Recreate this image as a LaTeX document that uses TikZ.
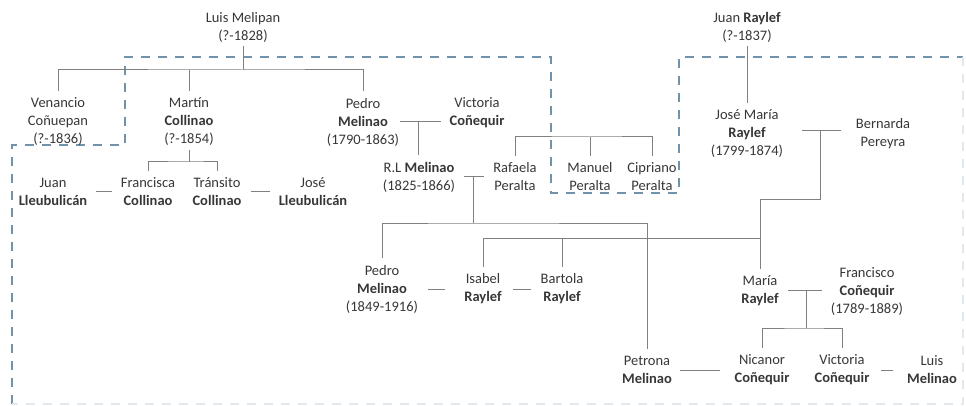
\documentclass[tikz,border=0pt]{standalone}
\usepackage{fontspec}
\setmainfont{Carlito}
\definecolor{linegray}{RGB}{128,128,128}
\definecolor{borderblue}{RGB}{112,146,170}
\definecolor{namegray}{RGB}{55,55,55}
\newcommand*{\linegap}{7pt}
\newcommand*{\dropgap}{-4pt}

\begin{document}
\begin{tikzpicture}[x=1pt, y=-1pt,
    person/.style={align=center, inner sep=0pt, text=namegray, font=\fontsize{14.5}{18}\selectfont},
    tree/.style={draw=linegray, line width=1pt},
    couple/.style={tree, shorten <=9pt, shorten >=9pt},
    border/.style={draw=borderblue, line width=1.1pt, dash pattern=on 9pt off 8pt}]
    \useasboundingbox (0,0) rectangle (966,406);
    % dashed border
    \draw[border] (12,404) -- (12,145) -- (125,145) -- (125,57) -- (551,57) -- (551,193) -- (679,193) -- (679,57) -- (963,57);
    \draw[border, draw=borderblue!20] (963,57) -- (963,404) -- (12,404);
    % first generation
    \node[person] (lmel) at (243,27) {Luis Melipan\\(?-1828)};
    \node[person] (juanr) at (747,27) {Juan \textbf{Raylef}\\(?-1837)};
    % second generation
    \node[person] (venancio) at (58,122) {Venancio\\Coñuepan\\(?-1836)};
    \node[person] (martin) at (189,122) {Martín\\\textbf{Collinao}\\(?-1854)};
    \node[person] (pedromel) at (363,122) {Pedro\\\textbf{Melinao}\\(1790-1863)};
    \node[person] (victoriacon) at (477,113) {Victoria\\\textbf{Coñequir}};
    \node[person] (josemaria) at (747,134) {José María\\\textbf{Raylef}\\(1799-1874)};
    \node[person] (bernarda) at (883,134) {Bernarda\\Pereyra};
    % third generation
    \node[person] (juanll) at (53,192) {Juan\\\textbf{Lleubulicán}};
    \node[person] (francisca) at (148,192) {Francisca\\\textbf{Collinao}};
    \node[person] (transito) at (217,192) {Tránsito\\\textbf{Collinao}};
    \node[person] (josell) at (313,192) {José\\\textbf{Lleubulicán}};
    \node[person] (rlmel) at (419,177) {R.L \textbf{Melinao}\\(1825-1866)};
    \node[person] (rafaela) at (515,177) {Rafaela\\Peralta};
    \node[person] (manuel) at (590,177) {Manuel\\Peralta};
    \node[person] (cipriano) at (652,177) {Cipriano\\Peralta};
    % fourth generation
    \node[person] (pedro2) at (382,289) {Pedro\\\textbf{Melinao}\\(1849-1916)};
    \node[person] (isabel) at (483,289) {Isabel\\\textbf{Raylef}};
    \node[person] (bartola) at (562,289) {Bartola\\\textbf{Raylef}};
    \node[person] (maria) at (760,291) {María\\\textbf{Raylef}};
    \node[person] (francisco) at (867,292) {Francisco\\\textbf{Coñequir}\\(1789-1889)};
    % fifth generation
    \node[person] (petrona) at (647,370) {Petrona\\\textbf{Melinao}};
    \node[person] (nicanor) at (762,370) {Nicanor\\\textbf{Coñequir}};
    \node[person] (victoria2) at (842,370) {Victoria\\\textbf{Coñequir}};
    \node[person] (luism) at (932,370) {Luis\\\textbf{Melinao}};
    % junction points
    \coordinate (melbar) at (243,70);
    \coordinate (colbar) at (189,162);
    \coordinate (pmknot) at (418,122);
    \coordinate (rlknot) at (473,177);
    \coordinate (rlbar) at (473,223);
    \coordinate (perbar) at (590,137);
    \coordinate (jmknot) at (820,131);
    \coordinate (rayturn) at (760,200);
    \coordinate (raybar) at (760,238);
    \coordinate (mfknot) at (806,290);
    \coordinate (conbar) at (806,328);
    % Melipan children
    \draw[tree] ([yshift=\dropgap]lmel.south) -- (melbar);
    \draw[tree] ([yshift=\linegap]venancio.north) |- (melbar) -| ([yshift=\linegap]pedromel.north);
    \draw[tree] ([yshift=\linegap]martin.north) -- (martin.north |- melbar);
    % Collinao children
    \draw[tree] ([yshift=\dropgap]martin.south) -- (colbar);
    \draw[tree] ([yshift=\linegap]francisca.north) |- (colbar) -| ([yshift=\linegap]transito.north);
    \draw[couple] (juanll.east) -- (francisca.west |- juanll.east);
    \draw[couple] (transito.east) -- (josell.west |- transito.east);
    % Melinao lines
    \draw[couple, shorten <=1pt, shorten >=8pt] (pedromel.east |- pmknot) -- (victoriacon.west |- pmknot);
    \draw[tree] (pmknot) -- ([yshift=\linegap]pmknot |- rlmel.north);
    \draw[couple] (rlmel.east |- rlknot) -- (rafaela.west |- rlknot);
    \draw[tree] (rlknot) -- (rlbar);
    \draw[tree] ([yshift=\linegap]pedro2.north) |- (rlbar) -| ([yshift=\linegap]petrona.north);
    % Peralta siblings
    \draw[tree] ([yshift=\linegap]rafaela.north) |- (perbar) -| ([yshift=\linegap]cipriano.north);
    \draw[tree] ([yshift=\linegap]manuel.north) -- (manuel.north |- perbar);
    % Raylef lines
    \draw[tree] ([yshift=\dropgap]juanr.south) -- ([yshift=\linegap]josemaria.north);
    \draw[couple, shorten <=19pt, shorten >=15pt] (josemaria.east |- jmknot) -- (bernarda.west |- jmknot);
    \draw[tree] (jmknot) |- (rayturn) -- ([yshift=\linegap]maria.north);
    \draw[tree] ([yshift=\linegap]isabel.north) |- (raybar);
    \draw[tree] ([yshift=\linegap]bartola.north) -- (bartola.north |- raybar);
    \draw[couple, shorten <=10pt, shorten >=19pt] (pedro2.east) -- (isabel.west |- pedro2.east);
    \draw[couple, shorten <=11pt, shorten >=10pt] (isabel.east) -- (bartola.west |- isabel.east);
    % Coñequir lines
    \draw[couple] (maria.east |- mfknot) -- (francisco.west |- mfknot);
    \draw[tree] (mfknot) -- (conbar);
    \draw[tree] ([yshift=\linegap]nicanor.north) |- (conbar) -| ([yshift=\linegap]victoria2.north);
    \draw[couple, shorten <=8pt, shorten >=14pt] (petrona.east) -- (nicanor.west |- petrona.east);
    \draw[couple, shorten <=11pt, shorten >=14pt] (victoria2.east) -- (luism.west |- victoria2.east);
\end{tikzpicture}
\end{document}
